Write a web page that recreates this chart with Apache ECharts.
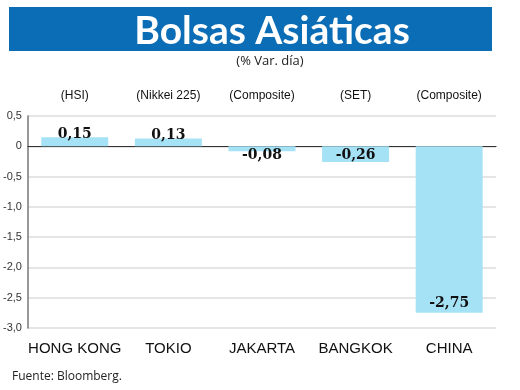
<!DOCTYPE html>
<html><head><meta charset="utf-8">
<script src="https://cdn.jsdelivr.net/npm/echarts@6/dist/echarts.min.js"></script>
<style>html,body{margin:0;padding:0;background:#fff}#c{width:520px;height:390px}</style>
</head><body><div id="c"></div>
<script>
const categories = ['HONG KONG', 'TOKIO', 'JAKARTA', 'BANGKOK', 'CHINA'];
const indexNames = ['(HSI)', '(Nikkei 225)', '(Composite)', '(SET)', '(Composite)'];
const values = [0.15, 0.13, -0.08, -0.26, -2.75];
const yMin = -3.0, yMax = 0.5, yStep = 0.5;

const fmt = v => v.toFixed(2).replace('.', ',');
const chart = echarts.init(document.getElementById('c'));
chart.setOption({
  animation: false,
  graphic: [
    {type: 'rect', shape: {x: 9, y: 7, width: 483, height: 44}, style: {fill: '#0b6db5'}},
    {type: 'text', x: 272, y: 31, style: {text: 'Bolsas Asiáticas', fill: '#fff', font: 'bold 39px Lato', align: 'center', verticalAlign: 'middle'}},
    {type: 'text', x: 270, y: 61, style: {text: '(% Var. día)', fill: '#222', font: '13px "Open Sans"', align: 'center', verticalAlign: 'middle'}},
    {type: 'text', x: 12, y: 377, style: {text: 'Fuente: Bloomberg.', fill: '#222', font: '12px "Open Sans"', verticalAlign: 'middle'}}
  ],
  grid: {left: 27, right: 24, top: 116, bottom: 62},
  xAxis: [
    {type: 'category', data: categories, position: 'bottom',
     axisLine: {onZero: true, lineStyle: {color: '#333', width: 1.2}},
     axisTick: {show: false},
     axisLabel: {interval: 0, margin: 13, color: '#111', fontSize: 15, fontFamily: 'Liberation Sans'}
    },
    {type: 'category', data: indexNames, position: 'top',
     axisLine: {show: false}, axisTick: {show: false},
     axisLabel: {interval: 0, margin: 14, color: '#111', fontSize: 12, fontFamily: 'Liberation Sans'}}
  ],
  yAxis: {type: 'value', min: yMin, max: yMax, interval: yStep,
    axisLine: {show: true, lineStyle: {color: '#777', width: 1.5}},
    axisTick: {show: false},
    splitLine: {lineStyle: {color: '#dcdcdc', width: 1.5}},
    axisLabel: {margin: 6, color: '#333', fontSize: 11, fontFamily: 'Liberation Sans',
      formatter: v => v === 0 ? '0' : v.toFixed(1).replace('.', ',')}
  },
  series: [{
    type: 'bar', xAxisIndex: 0, barWidth: 67,
    itemStyle: {color: '#a6e2f6'},
    data: values.map(v => ({
      value: v,
      label: {show: true,
        position: v >= 0 ? 'top' : (Math.abs(v) < 0.2 ? 'bottom' : 'insideBottom'),
        distance: v >= 0 ? -4 : (Math.abs(v) < 0.2 ? -3 : (Math.abs(v) < 1 ? 0 : 2))}
    })),
    label: {formatter: p => fmt(p.value), color: '#111', fontFamily: 'DejaVu Serif', fontWeight: 'bold', fontSize: 14}
  }]
});
</script></body></html>
